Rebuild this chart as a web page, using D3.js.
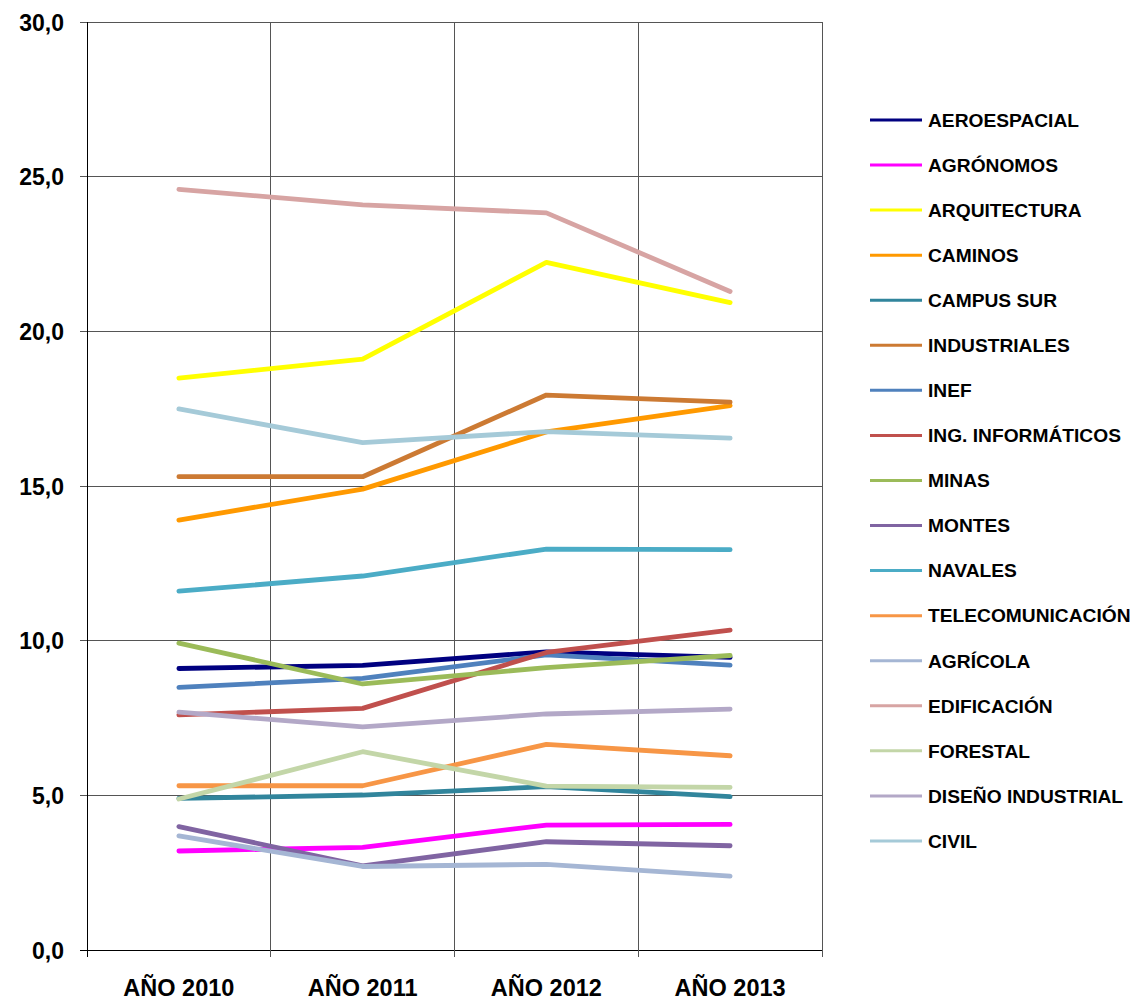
<!DOCTYPE html>
<html>
<head>
<meta charset="utf-8">
<script src="https://cdn.jsdelivr.net/npm/d3@7"></script>
<style>
  html, body { margin: 0; padding: 0; background: #fff; }
  svg { display: block; font-family: "Liberation Sans", Arial, sans-serif; font-weight: bold; }
</style>
</head>
<body>
<svg id="chart" width="1135" height="1000"></svg>
<script>
const categories = ["AÑO 2010", "AÑO 2011", "AÑO 2012", "AÑO 2013"];
const yTicks = [0, 5, 10, 15, 20, 25, 30];

const seriesNames = [
  "AEROESPACIAL", "AGRÓNOMOS", "ARQUITECTURA", "CAMINOS", "CAMPUS SUR",
  "INDUSTRIALES", "INEF", "ING. INFORMÁTICOS", "MINAS", "MONTES", "NAVALES",
  "TELECOMUNICACIÓN", "AGRÍCOLA", "EDIFICACIÓN", "FORESTAL", "DISEÑO INDUSTRIAL", "CIVIL"
];

const aeroespacial     = [9.1, 9.2, 9.64, 9.46];
const agronomos        = [3.2, 3.32, 4.04, 4.06];
const arquitectura     = [18.49, 19.1, 22.23, 20.93];
const caminos          = [13.9, 14.9, 16.75, 17.6];
const campusSur        = [4.9, 5.01, 5.28, 4.96];
const industriales     = [15.3, 15.3, 17.94, 17.71];
const inef             = [8.49, 8.78, 9.54, 9.21];
const ingInformaticos  = [7.6, 7.81, 9.62, 10.34];
const minas            = [9.92, 8.6, 9.13, 9.52];
const montes           = [3.99, 2.72, 3.5, 3.37];
const navales          = [11.6, 12.09, 12.96, 12.94];
const telecomunicacion = [5.31, 5.31, 6.65, 6.28];
const agricola         = [3.69, 2.7, 2.77, 2.39];
const edificacion      = [24.59, 24.09, 23.83, 21.29];
const forestal         = [4.88, 6.41, 5.3, 5.26];
const disenoIndustrial = [7.69, 7.21, 7.63, 7.79];
const civil            = [17.49, 16.4, 16.76, 16.55];

const seriesValues = [
  aeroespacial, agronomos, arquitectura, caminos, campusSur, industriales, inef,
  ingInformaticos, minas, montes, navales, telecomunicacion, agricola, edificacion,
  forestal, disenoIndustrial, civil
];

const seriesColors = [
  "#000080", "#FF00FF", "#FFFF00", "#FF9900", "#31859C", "#CC7A33", "#4F81BD",
  "#C0504D", "#9BBB59", "#8064A2", "#4BACC6", "#F79646", "#A5B6D4", "#D7A4A3",
  "#C3D6A8", "#B3A8C7", "#A5CAD8"
];

const svg = d3.select("#chart");
const plotLeft = 87, plotRight = 822, plotTop = 22, plotBottom = 950;

const x = d3.scaleBand().domain(categories).range([plotLeft, plotRight]).padding(0);
const y = d3.scaleLinear().domain([0, 30]).range([plotBottom, plotTop]);
const fmt = v => d3.format(".1f")(v).replace(".", ",");

// horizontal gridlines
svg.append("g").selectAll("line").data(yTicks).join("line")
  .attr("x1", plotLeft - 7).attr("x2", plotRight)
  .attr("y1", d => y(d)).attr("y2", d => y(d))
  .attr("stroke", d => d === 0 ? "#000" : "#555").attr("stroke-width", 1)
  .attr("shape-rendering", "crispEdges");

// vertical gridlines at category boundaries
const bounds = categories.map(c => x(c)).concat([plotRight]);
svg.append("g").selectAll("line").data(bounds).join("line")
  .attr("x1", d => d).attr("x2", d => d)
  .attr("y1", plotTop).attr("y2", plotBottom + 7)
  .attr("stroke", (d, i) => i === 0 ? "#000" : "#555").attr("stroke-width", 1)
  .attr("shape-rendering", "crispEdges");

// y tick labels
svg.append("g").selectAll("text").data(yTicks).join("text")
  .attr("x", 64).attr("y", d => y(d) + 8.5)
  .attr("text-anchor", "end")
  .attr("font-size", 23).attr("fill", "#000")
  .text(d => fmt(d));

// x labels
svg.append("g").selectAll("text").data(categories).join("text")
  .attr("x", d => x(d) + x.bandwidth() / 2).attr("y", 996)
  .attr("text-anchor", "middle")
  .attr("font-size", 23.5).attr("fill", "#000")
  .text(d => d);

// lines
const line = d3.line()
  .x((d, i) => x(categories[i]) + x.bandwidth() / 2)
  .y(d => y(d));

svg.append("g").selectAll("path").data(seriesValues).join("path")
  .attr("d", d => line(d))
  .attr("fill", "none")
  .attr("stroke", (d, i) => seriesColors[i])
  .attr("stroke-width", 4.8)
  .attr("stroke-linecap", "round")
  .attr("stroke-linejoin", "round");

// legend
const lg = svg.append("g");
const legY0 = 120, legStep = 45.06;
seriesNames.forEach((name, i) => {
  const yy = legY0 + i * legStep;
  lg.append("line")
    .attr("x1", 870).attr("x2", 922).attr("y1", yy).attr("y2", yy)
    .attr("stroke", seriesColors[i]).attr("stroke-width", 3);
  lg.append("text")
    .attr("x", 928).attr("y", yy + 6.8)
    .attr("font-size", 19.2).attr("fill", "#000")
    .text(name);
});
</script>
</body>
</html>
